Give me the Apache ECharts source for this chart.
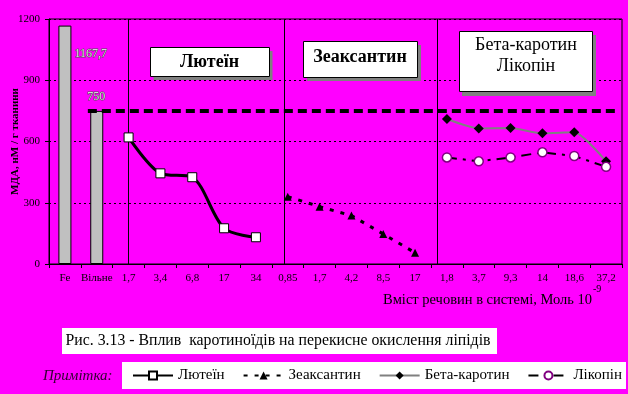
<!DOCTYPE html>
<html><head><meta charset="utf-8">
<script src="https://cdn.jsdelivr.net/npm/echarts@6/dist/echarts.min.js"></script>
<style>html,body{margin:0;padding:0;background:#ff00ff}#c{width:628px;height:394px}</style>
</head><body><div id="c"></div>
<script>
const categories = ['Fe','Вільне','1,7','3,4','6,8','17','34','0,85','1,7','4,2','8,5','17','1,8','3,7','9,3','14','18,6','37,2'];
const barValues = [1167.7, 750];
const barLabels = ['1167,7', '750'];
const freeLevel = 750;
const lutein = [620, 444, 425, 175, 131];
const zeaxanthin = [330, 281, 237, 147, 55];
const betaCarotene = [710, 664, 666, 640, 645, 503];
const lycopene = [522, 503, 522, 547, 529, 476];
const yTicks = [0, 300, 600, 900, 1200];
const seriesNames = ['Лютеїн', 'Зеаксантин', 'Бета-каротин', 'Лікопін'];
const yAxisTitle = 'МДА, нМ / г тканини';

const F = 'Liberation Serif, Times New Roman, serif';
function pad(start, arr) {
  const out = categories.map(() => null);
  arr.forEach((v, i) => { out[start + i] = v; });
  return out;
}
const barData = categories.map(() => null);
barData[0] = { value: barValues[0], label: { show: true, formatter: barLabels[0], position: [16, 28], align: 'left', verticalAlign: 'middle' } };
barData[1] = { value: barValues[1], label: { show: true, formatter: barLabels[1], position: [-3, -14], align: 'left', verticalAlign: 'middle' } };

const chart = echarts.init(document.getElementById('c'));
chart.setOption({
  animation: false,
  backgroundColor: '#ff00ff',
  grid: { left: 49, top: 19, right: 6, bottom: 130, show: true, borderColor: '#000', borderWidth: 1, backgroundColor: 'transparent', containLabel: false, outerBoundsMode: 'none' },
  xAxis: [{
    type: 'category', data: categories, boundaryGap: true,
    axisLine: { lineStyle: { color: '#000', width: 1 } },
    axisTick: { show: true, length: 4, lineStyle: { color: '#000' }, interval: 0 },
    axisLabel: { interval: 0, fontFamily: F, fontSize: 11, color: '#000', margin: 9 },
    splitLine: { show: false }
  }, {
    type: 'value', min: 0, max: 18, show: false, position: 'top'
  }],
  yAxis: {
    type: 'value', min: yTicks[0], max: yTicks[yTicks.length - 1], interval: yTicks[1] - yTicks[0],
    axisLine: { show: true, lineStyle: { color: '#000', width: 1 } },
    axisTick: { show: true, length: 4, lineStyle: { color: '#000' } },
    axisLabel: { fontFamily: F, fontSize: 11, color: '#000', margin: 9, formatter: v => String(v) },
    splitLine: { show: true, lineStyle: { color: '#000', type: [2, 3], width: 1 } }
  },
  legend: {
    data: seriesNames, left: 132, top: 368, itemWidth: 40, itemHeight: 10, itemGap: 18,
    textStyle: { fontFamily: F, fontSize: 15, color: '#000' }, padding: 0
  },
  graphic: [
    { type: 'text', x: 15, y: 141.5, rotation: Math.PI / 2, style: { text: yAxisTitle, font: 'bold 11px ' + F, fill: '#000', textAlign: 'center', textVerticalAlign: 'middle' }, z: 12 },
    { type: 'rect', shape: { x: 153.5, y: 51, width: 119, height: 29 }, style: { fill: '#808080' }, z: 10 },
    { type: 'rect', shape: { x: 150.5, y: 47.5, width: 119, height: 29 }, style: { fill: '#fff', stroke: '#000', lineWidth: 1 }, z: 11 },
    { type: 'text', x: 209.5, y: 62, style: { text: 'Лютеїн', font: 'bold 18px ' + F, fill: '#000', textAlign: 'center', textVerticalAlign: 'middle' }, z: 12 },
    { type: 'rect', shape: { x: 307, y: 45, width: 114, height: 36 }, style: { fill: '#808080' }, z: 10 },
    { type: 'rect', shape: { x: 303.5, y: 41.5, width: 114, height: 36 }, style: { fill: '#fff', stroke: '#000', lineWidth: 1 }, z: 11 },
    { type: 'text', x: 360, y: 57, style: { text: 'Зеаксантин', font: 'bold 18px ' + F, fill: '#000', textAlign: 'center', textVerticalAlign: 'middle' }, z: 12 },
    { type: 'rect', shape: { x: 462, y: 35, width: 134, height: 61 }, style: { fill: '#808080' }, z: 10 },
    { type: 'rect', shape: { x: 459.5, y: 31.5, width: 133, height: 60 }, style: { fill: '#fff', stroke: '#000', lineWidth: 1 }, z: 11 },
    { type: 'text', x: 526, y: 45, style: { text: 'Бета-каротин', font: '18px ' + F, fill: '#000', textAlign: 'center', textVerticalAlign: 'middle' }, z: 12 },
    { type: 'text', x: 526, y: 66, style: { text: 'Лікопін', font: '18px ' + F, fill: '#000', textAlign: 'center', textVerticalAlign: 'middle' }, z: 12 },
    { type: 'text', x: 383, y: 300, style: { text: 'Вміст речовин в системі, Моль 10', font: '14.5px ' + F, fill: '#000', textAlign: 'left', textVerticalAlign: 'middle' }, z: 12 },
    { type: 'text', x: 593, y: 289, style: { text: '-9', font: '10px ' + F, fill: '#000', textAlign: 'left', textVerticalAlign: 'middle' }, z: 12 },
    { type: 'rect', shape: { x: 62, y: 328, width: 435, height: 26 }, style: { fill: '#fff' }, z: 1 },
    { type: 'text', x: 278, y: 341, style: { text: 'Рис. 3.13 - Вплив  каротиноїдів на перекисне окислення ліпідів', font: '15.8px ' + F, fill: '#000', textAlign: 'center', textVerticalAlign: 'middle' }, z: 2 },
    { type: 'rect', shape: { x: 122, y: 362, width: 504, height: 27 }, style: { fill: '#fff' }, z: 1 },
    { type: 'text', x: 43, y: 376, style: { text: 'Примітка:', font: 'italic 15px ' + F, fill: '#300030', textAlign: 'left', textVerticalAlign: 'middle' }, z: 2 }
  ],
  series: [
    {
      type: 'bar', data: barData, barWidth: 13,
      itemStyle: { color: '#c0c0c0', borderColor: '#000', borderWidth: 1 },
      label: { fontFamily: F, fontSize: 12, color: '#d8d8d8', textBorderColor: '#505050', textBorderWidth: 1 }
    },
    {
      type: 'line', xAxisIndex: 1, data: [], silent: true,
      markLine: {
        silent: true, symbol: 'none', label: { show: false },
        lineStyle: { color: '#000', width: 1, type: 'solid' },
        data: [{ xAxis: 2.5 }, { xAxis: 7.4 }, { xAxis: 12.19 }]
      }
    },
    {
      type: 'line', xAxisIndex: 1, data: [], silent: true, z: 3,
      markLine: {
        silent: true, symbol: 'none', label: { show: false },
        lineStyle: { color: '#000', width: 4, type: [9, 5] },
        data: [[{ coord: [1.22, freeLevel] }, { coord: [17.84, freeLevel] }]]
      }
    },
    {
      name: seriesNames[0], type: 'line', data: pad(2, lutein), smooth: 0.3,
      symbol: 'rect', symbolSize: 9,
      lineStyle: { color: '#000', width: 3 },
      itemStyle: { color: '#fff', borderColor: '#000', borderWidth: 1 }, z: 5
    },
    {
      name: seriesNames[1], type: 'line', data: pad(7, zeaxanthin),
      symbol: 'triangle', symbolSize: 8,
      lineStyle: { color: '#000', width: 3, type: [4, 7] },
      itemStyle: { color: '#000' }, z: 5
    },
    {
      name: seriesNames[2], type: 'line', data: pad(12, betaCarotene), smooth: 0.2,
      symbol: 'diamond', symbolSize: 10,
      lineStyle: { color: '#808080', width: 2 },
      itemStyle: { color: '#000' }, z: 5
    },
    {
      name: seriesNames[3], type: 'line', data: pad(12, lycopene),
      symbol: 'circle', symbolSize: 9,
      lineStyle: { color: '#000', width: 2, type: [10, 6, 3, 6] },
      itemStyle: { color: '#fff', borderColor: '#800080', borderWidth: 1.5 }, z: 5
    }
  ]
});
</script></body></html>
